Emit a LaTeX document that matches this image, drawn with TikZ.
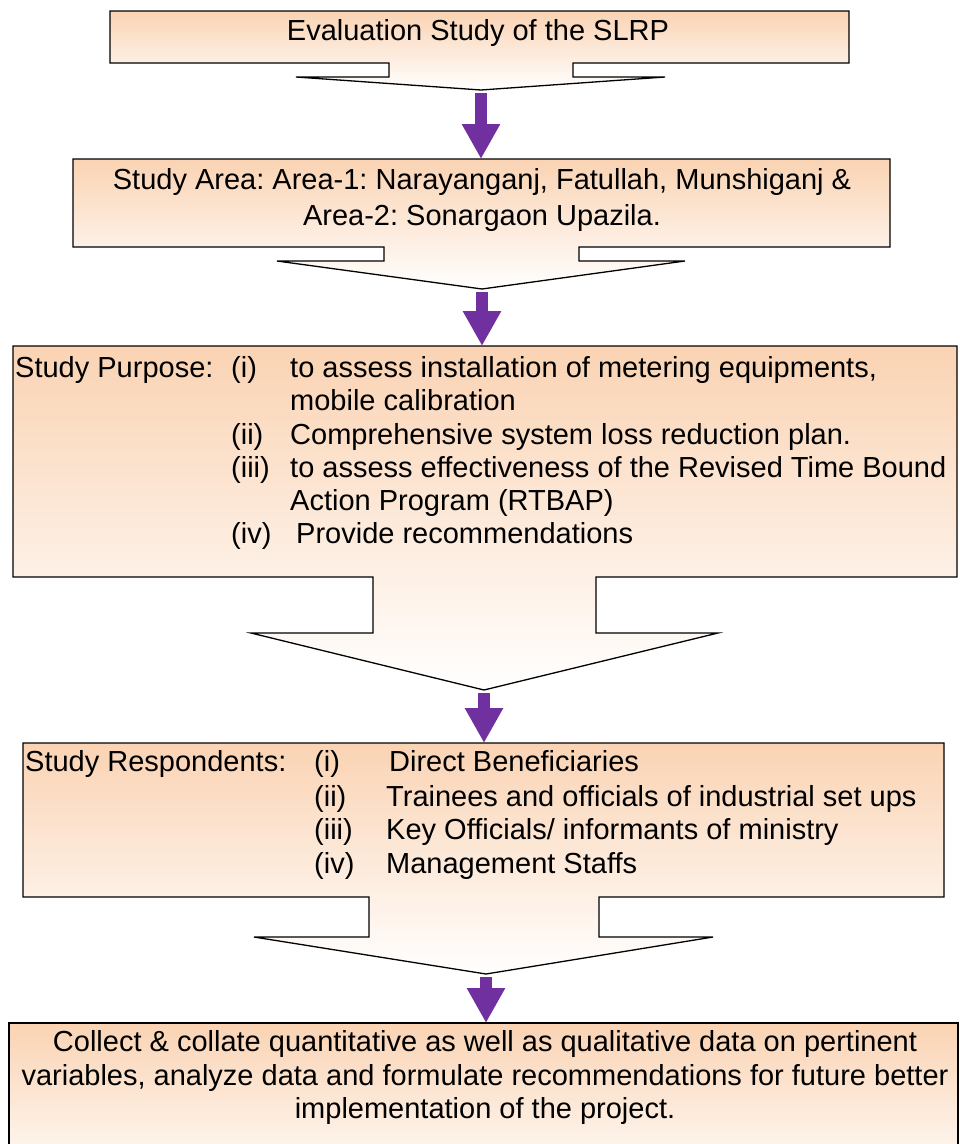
\documentclass[tikz,border=0pt]{standalone}
\usepackage{fontspec}
\setmainfont{Liberation Sans}
\usetikzlibrary{arrows.meta}
\definecolor{peach}{HTML}{FAD3B3}
\definecolor{flowpurple}{HTML}{7030A0}
\frenchspacing

\begin{document}
\begin{tikzpicture}[
    x=1pt, y=-1pt,
    every node/.style={inner sep=0pt, font=\fontsize{29}{34}\selectfont},
    panel/.style={draw=black, line width=1.3pt, top color=peach, bottom color=white},
    centre/.style={anchor=base},
    lefttext/.style={anchor=base west},
    flow/.style={draw=flowpurple, line width=12pt, -{Triangle[width=36pt, length=35pt]}, shorten <=3pt}
]
    \clip (0,0) rectangle (960,1144);

    % callout panels
    \draw[panel] (110,11) -- (849,11) -- (849,63) -- (573,63) -- (573,77) -- (665,77) -- (481,90)
        -- (296,77) -- (389,77) -- (389,63) -- (110,63) -- cycle;
    \draw[panel] (73,159) -- (890,159) -- (890,247) -- (579,247) -- (579,261) -- (685,261) -- (482,289)
        -- (277,261) -- (384,261) -- (384,247) -- (73,247) -- cycle;
    \draw[panel] (13,346) -- (957,346) -- (957,577) -- (596,577) -- (596,633) -- (718,633) -- (484,690)
        -- (251,633) -- (373,633) -- (373,577) -- (13,577) -- cycle;
    \draw[panel] (23,743) -- (944,743) -- (944,897) -- (599,897) -- (599,937) -- (713,937) -- (486,974)
        -- (254,937) -- (369,937) -- (369,897) -- (23,897) -- cycle;
    \draw[panel] (9,1023) rectangle (958,1190);

    % tips and tops
    \coordinate (evaltip) at (481,90);
    \coordinate (areatop) at (481,159);
    \coordinate (areatip) at (482,289);
    \coordinate (purposetop) at (482,346);
    \coordinate (purposetip) at (484,690);
    \coordinate (resptop) at (484,743);
    \coordinate (resptip) at (486,974);
    \coordinate (collecttop) at (486,1023);

    % texts
    \node[centre] (eval) at (478,40) {Evaluation Study of the SLRP};

    \node[centre] (area1) at (482,189) {Study Area: Area-1: Narayanganj, Fatullah, Munshiganj \&};
    \node[centre] (area2) at (482,225) {Area-2: Sonargaon Upazila.};

    \node[lefttext] (purpose) at (15,377) {Study Purpose:};
    \node[lefttext] (purpnum1) at (231,377) {(i)};
    \node[lefttext] (purptxt1) at (290,377) {to assess installation of metering equipments,};
    \node[lefttext] (purptxt1b) at (290,410) {mobile calibration};
    \node[lefttext] (purpnum2) at (231,444) {(ii)};
    \node[lefttext] (purptxt2) at (290,444) {Comprehensive system loss reduction plan.};
    \node[lefttext] (purpnum3) at (231,477) {(iii)};
    \node[lefttext] (purptxt3) at (290,477) {to assess effectiveness of the Revised Time Bound};
    \node[lefttext] (purptxt3b) at (290,510) {Action Program (RTBAP)};
    \node[lefttext] (purpnum4) at (231,543) {(iv)};
    \node[lefttext] (purptxt4) at (296,543) {Provide recommendations};

    \node[lefttext] (resp) at (25,771) {Study Respondents:};
    \node[lefttext] (respnum1) at (314,771) {(i)};
    \node[lefttext] (resptxt1) at (389,771) {Direct Beneficiaries};
    \node[lefttext] (respnum2) at (314,806) {(ii)};
    \node[lefttext] (resptxt2) at (386,806) {Trainees and officials of industrial set ups};
    \node[lefttext] (respnum3) at (314,839) {(iii)};
    \node[lefttext] (resptxt3) at (386,839) {Key Officials/ informants of ministry};
    \node[lefttext] (respnum4) at (314,873) {(iv)};
    \node[lefttext] (resptxt4) at (386,873) {Management Staffs};

    \node[centre] (collect1) at (485,1051) {Collect \& collate quantitative as well as qualitative data on pertinent};
    \node[centre] (collect2) at (485,1085) {variables, analyze data and formulate recommendations for future better};
    \node[centre] (collect3) at (485,1118) {implementation of the project.};

    % flow arrows
    \draw[flow] (evaltip) -- (areatop);
    \draw[flow] (areatip) -- (purposetop);
    \draw[flow] (purposetip) -- (resptop);
    \draw[flow] (resptip) -- (collecttop);
\end{tikzpicture}
\end{document}
